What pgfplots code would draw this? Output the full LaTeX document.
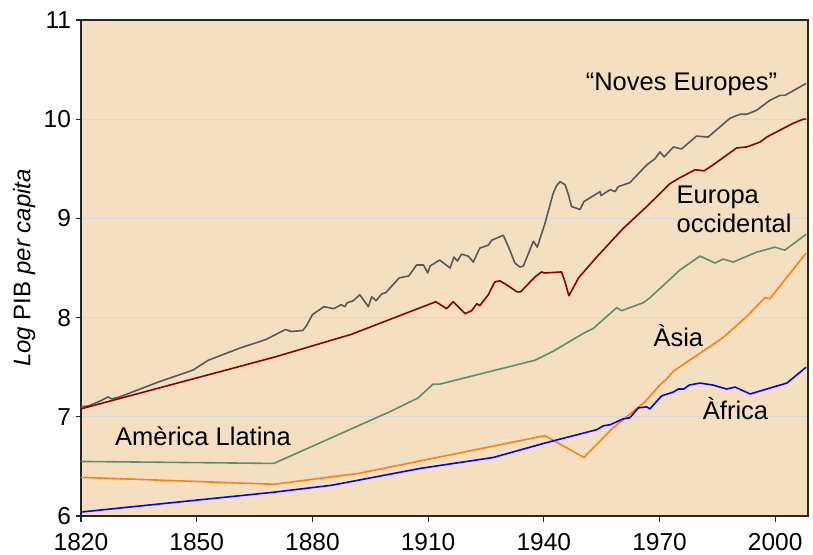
\documentclass[border=0pt]{standalone}
\usepackage{fontspec}
\setmainfont{Liberation Sans}
\usepackage{pgfplots}
\pgfplotsset{compat=1.18}
\definecolor{bgwheat}{RGB}{244,224,193}
\definecolor{cgray}{RGB}{88,88,88}
\definecolor{cred}{RGB}{139,0,0}
\definecolor{cgreen}{RGB}{95,140,108}
\definecolor{corange}{RGB}{255,127,14}
\definecolor{cblue}{RGB}{0,0,255}
\definecolor{cgrid}{RGB}{215,215,215}
\begin{document}
\begin{tikzpicture}
\begin{axis}[
  scale only axis,
  width=727pt, height=496pt,
  xmin=1820, xmax=2008.5, ymin=6, ymax=11,
  xtick={1820,1850,1880,1910,1940,1970,2000},
  ytick={6,7,8,9,10,11},
  tick pos=left, tick align=outside,
  major tick length=5.5pt,
  tick style={line width=1.2pt, color=black!85},
  axis line style={line width=1.5pt, color=black!85},
  axis background/.style={fill=bgwheat},
  ymajorgrids, grid style={cgrid, line width=1.3pt},
  /pgf/number format/assume math mode=true,
  /pgf/number format/1000 sep={},
  ticklabel style={font=\fontsize{24.5}{28}\selectfont},
  xticklabel style={yshift=-8pt},
  yticklabel style={xshift=-1pt},
  ylabel={\textit{Log} PIB \textit{per capita}},
  ylabel style={font=\fontsize{24}{28}\selectfont, at={(axis description cs:-0.078,0.5)}, anchor=center},
  clip=false,
  every axis plot/.append style={line width=1.6pt, line join=round},
]
\addplot[cgray] coordinates {
(1820,7.10) (1822,7.11) (1825,7.16) (1827,7.20) (1828,7.18) (1830,7.20) (1840,7.35) (1849,7.47)
(1853,7.57) (1861,7.69) (1868,7.78) (1873,7.88) (1874.5,7.86) (1877.5,7.87) (1878.5,7.92) (1880,8.03)
(1883,8.11) (1885.5,8.09) (1887.5,8.13) (1888.4,8.11) (1889,8.15) (1890.6,8.17) (1892.3,8.23)
(1894.5,8.11) (1895.4,8.21) (1896.5,8.17) (1898,8.24) (1899,8.25) (1902.5,8.40) (1905,8.42)
(1907,8.53) (1908.8,8.53) (1909.9,8.45) (1910.5,8.52) (1913,8.58) (1915.7,8.50) (1916.7,8.61)
(1917.6,8.57) (1918.7,8.64) (1920.4,8.62) (1921.7,8.56) (1923.4,8.70) (1925.6,8.73) (1926.5,8.78)
(1929.5,8.83) (1931.2,8.68) (1932.5,8.55) (1933.8,8.51) (1934.7,8.52) (1937.3,8.77) (1938.3,8.71)
(1940.3,8.95) (1942.4,9.25) (1943.3,9.33) (1944.2,9.37) (1945.5,9.34) (1946.3,9.25) (1947.2,9.12)
(1949.4,9.09) (1950.4,9.17) (1954.6,9.27) (1954.8,9.23) (1957.2,9.29) (1958.5,9.27) (1959.3,9.32)
(1962.3,9.36) (1966.7,9.54) (1968.8,9.60) (1970.1,9.67) (1971.2,9.62) (1973.6,9.72) (1975.7,9.70)
(1979.6,9.83) (1982.6,9.82) (1988.3,10.01) (1990.9,10.05) (1992.6,10.05) (1995.2,10.09)
(1998.6,10.19) (2001.2,10.24) (2002.5,10.24) (2008,10.36)
};
\addplot[cred] coordinates {
(1820,7.08) (1870,7.60) (1890,7.83) (1912,8.16) (1914.8,8.09) (1916.5,8.16) (1919.6,8.04)
(1921.3,8.07) (1922.6,8.14) (1923.4,8.12) (1925.6,8.23) (1927.3,8.36) (1928.6,8.37) (1930.4,8.33)
(1933,8.26) (1934,8.26) (1937.7,8.41) (1939.4,8.46) (1940.3,8.45) (1944.6,8.46) (1945.5,8.36)
(1946.5,8.22) (1949,8.40) (1953.7,8.61) (1960.6,8.90) (1966.7,9.12) (1972.7,9.35) (1975.3,9.41)
(1979.2,9.49) (1981.6,9.48) (1983.9,9.54) (1990,9.71) (1992.6,9.72) (1996.1,9.77) (1997.8,9.82)
(2004.7,9.96) (2007.3,10.00) (2008,10.00)
};
\addplot[cgreen] coordinates {
(1820,6.55) (1870,6.53) (1900,7.05) (1907.4,7.19) (1911.3,7.33) (1913.1,7.33) (1937.7,7.57)
(1942.4,7.66) (1950.2,7.84) (1952.8,7.89) (1958.9,8.10) (1960.2,8.07) (1965.8,8.15) (1967.5,8.20)
(1975.3,8.48) (1980.5,8.62) (1984.4,8.55) (1986.5,8.59) (1989.1,8.56) (1995.2,8.66) (1999.9,8.71)
(2002.5,8.68) (2008,8.84)
};
\addplot[corange] coordinates {
(1820,6.39) (1870,6.32) (1892,6.43) (1940.3,6.81) (1950.4,6.59) (1958,6.89) (1966.2,7.15)
(1970.1,7.32) (1971.8,7.38) (1973.6,7.46) (1986.5,7.80) (1992.6,8.01) (1997.3,8.20) (1998.6,8.19)
(2008,8.65)
};
\addplot[cblue] coordinates {
(1820,6.04) (1870,6.24) (1885,6.31) (1908,6.48) (1926.9,6.59) (1940.7,6.74) (1953.7,6.87)
(1955.5,6.91) (1957.2,6.92) (1960.6,6.98) (1962.3,6.99) (1964.5,7.09) (1966.7,7.10) (1967.5,7.08)
(1970.5,7.21) (1973.6,7.25) (1974.9,7.28) (1976.3,7.28) (1977.7,7.32) (1980.5,7.34) (1983.9,7.32)
(1987.4,7.28) (1989.6,7.30) (1993.5,7.23) (1999.5,7.30) (2003,7.34) (2008,7.50)
};
\node[anchor=base, inner sep=0pt, font=\fontsize{25.5}{30}\selectfont] at (axis cs:1975.7,10.29) {“Noves Europes”};
\node[anchor=base west, inner sep=0pt, font=\fontsize{25.5}{30}\selectfont] at (axis cs:1974.4,9.152) {Europa};
\node[anchor=base west, inner sep=0pt, font=\fontsize{25.5}{30}\selectfont] at (axis cs:1974.4,8.856) {occidental};
\node[anchor=base west, inner sep=0pt, font=\fontsize{25.5}{30}\selectfont] at (axis cs:1968.4,7.707) {Àsia};
\node[anchor=base west, inner sep=0pt, font=\fontsize{25.5}{30}\selectfont] at (axis cs:1981.2,6.975) {Àfrica};
\node[anchor=base west, inner sep=0pt, font=\fontsize{25.5}{30}\selectfont] at (axis cs:1828.8,6.706) {Amèrica Llatina};
\end{axis}
\pgfresetboundingbox
\path[use as bounding box] (-81pt,-38pt) rectangle (732pt,516pt);
\end{tikzpicture}
\end{document}
